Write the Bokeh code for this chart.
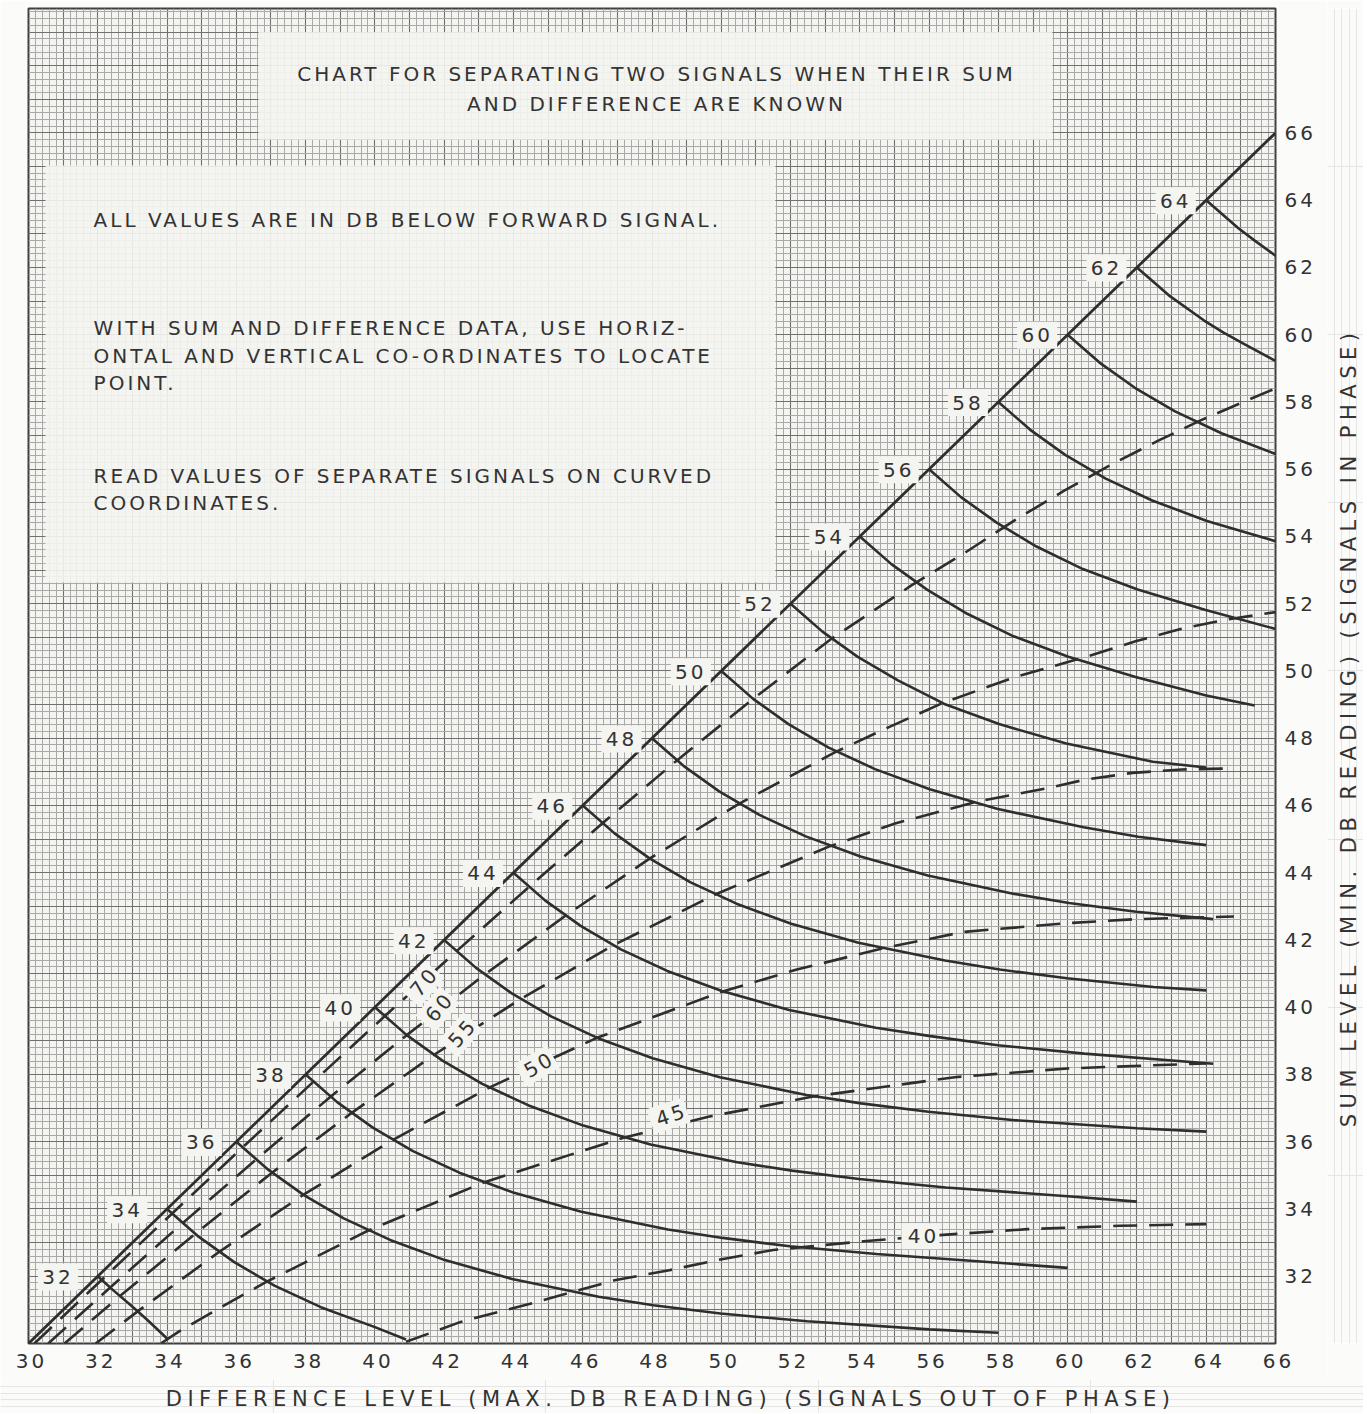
import math
from bokeh.plotting import figure
from bokeh.layouts import row, column
from bokeh.models import FixedTicker, SingleIntervalTicker, Range1d, InlineStyleSheet
from bokeh.core.properties import value
from bokeh.embed import file_html
from bokeh.resources import INLINE

# ---------------- data ----------------
x_ticks = list(range(30, 67, 2))
y_ticks = list(range(32, 67, 2))

diag_d = [30.0, 66.0]
diag_s = [30.0, 66.0]

# solid curves: constant level of one signal (labelled where they leave the diagonal)
solid_levels = [32, 34, 36, 38, 40, 42, 44, 46, 48, 50, 52, 54, 56, 58, 60, 62, 64]
s32_d = [32.0, 32.45, 32.92, 33.41, 34.0]
s32_s = [32.0, 31.58, 31.17, 30.72, 30.15]
s34_d = [34.0, 34.92, 35.94, 37.10, 38.44, 40.02, 40.9]
s34_s = [34.0, 33.17, 32.42, 31.72, 31.08, 30.48, 30.12]
s36_d = [36.0, 36.92, 37.94, 39.10, 40.44, 42.02, 43.96, 46.46, 48.04, 49.98, 52.48, 56.0, 58.0]
s36_s = [36.0, 35.17, 34.42, 33.72, 33.08, 32.48, 31.92, 31.39, 31.14, 30.89, 30.66, 30.42, 30.32]
s38_d = [38.0, 38.92, 39.94, 41.10, 42.44, 44.02, 45.96, 48.46, 50.04, 51.98, 54.48, 58.0, 60.0]
s38_s = [38.0, 37.17, 36.42, 35.72, 35.08, 34.48, 33.92, 33.39, 33.14, 32.89, 32.66, 32.40, 32.25]
s40_d = [40.0, 40.92, 41.94, 43.10, 44.44, 46.02, 47.96, 50.46, 52.04, 53.98, 56.48, 60.0, 62.0]
s40_s = [40.0, 39.17, 38.42, 37.72, 37.08, 36.48, 35.92, 35.39, 35.14, 34.89, 34.64, 34.38, 34.22]
s42_d = [42.0, 42.92, 43.94, 45.10, 46.44, 48.02, 49.96, 52.46, 54.04, 55.98, 58.48, 62.0, 64.0]
s42_s = [42.0, 41.17, 40.42, 39.72, 39.08, 38.48, 37.92, 37.39, 37.14, 36.89, 36.64, 36.40, 36.30]
s44_d = [44.0, 44.92, 45.94, 47.10, 48.44, 50.02, 51.96, 54.46, 56.04, 57.98, 60.48, 64.2]
s44_s = [44.0, 43.17, 42.42, 41.72, 41.08, 40.48, 39.92, 39.39, 39.14, 38.87, 38.62, 38.32]
s46_d = [46.0, 46.92, 47.94, 49.10, 50.44, 52.02, 53.96, 56.46, 58.04, 59.98, 62.48, 64.0]
s46_s = [46.0, 45.17, 44.42, 43.72, 43.08, 42.48, 41.92, 41.39, 41.12, 40.86, 40.60, 40.50]
s48_d = [48.0, 48.92, 49.94, 51.10, 52.44, 54.02, 55.96, 58.46, 60.04, 61.98, 64.2]
s48_s = [48.0, 47.17, 46.42, 45.72, 45.08, 44.48, 43.92, 43.37, 43.10, 42.84, 42.62]
s50_d = [50.0, 50.92, 51.94, 53.10, 54.44, 56.02, 57.96, 60.46, 62.04, 64.0]
s50_s = [50.0, 49.17, 48.42, 47.72, 47.08, 46.48, 45.90, 45.35, 45.07, 44.82]
s52_d = [52.0, 52.92, 53.94, 55.10, 56.44, 58.02, 59.96, 62.46, 64.0]
s52_s = [52.0, 51.17, 50.42, 49.72, 49.02, 48.42, 47.84, 47.30, 47.13]
s54_d = [54.0, 54.92, 55.94, 57.10, 58.44, 60.02, 61.96, 64.0, 65.4]
s54_s = [54.0, 53.17, 52.42, 51.70, 51.03, 50.42, 49.82, 49.27, 48.97]
s56_d = [56.0, 56.92, 57.94, 59.10, 60.44, 62.02, 63.96, 66.0]
s56_s = [56.0, 55.17, 54.42, 53.70, 53.03, 52.42, 51.82, 51.25]
s58_d = [58.0, 58.92, 59.94, 61.10, 62.44, 64.02, 66.0]
s58_s = [58.0, 57.17, 56.42, 55.72, 55.07, 54.46, 53.86]
s60_d = [60.0, 60.92, 61.94, 63.10, 64.44, 66.0]
s60_s = [60.0, 59.17, 58.42, 57.72, 57.07, 56.45]
s62_d = [62.0, 62.92, 63.94, 64.50, 65.10, 66.0]
s62_s = [62.0, 61.17, 60.42, 60.06, 59.72, 59.22]
s64_d = [64.0, 64.92, 65.41, 66.0]
s64_s = [64.0, 63.17, 62.79, 62.35]

# dashed curves: constant level of the other signal
dashed_levels = [70, 60, 55, 50, 45, 40]
d70_d = [30.17, 32.11, 34.14, 36.18, 38.22, 40.28, 42.35, 44.45, 46.57, 48.72, 50.92, 53.17,
         55.5, 57.1, 58.5, 59.9, 61.3, 62.6, 63.9, 65.07, 66.0]
d70_s = [30.0, 31.89, 33.86, 35.83, 37.78, 39.73, 41.66, 43.58, 45.47, 47.34, 49.17, 50.95,
         52.55, 53.56, 54.5, 55.36, 56.16, 56.84, 57.48, 58.0, 58.4]
d60_d = [30.57, 32.35, 34.45, 36.57, 38.72, 40.92, 43.17, 45.5, 47.93, 50.51, 53.32, 54.84,
         56.4, 58.43, 59.3, 60.57, 61.96, 63.26, 64.6, 66.0]
d60_s = [30.0, 31.66, 33.58, 35.47, 37.34, 39.17, 40.97, 42.72, 44.42, 46.05, 47.6, 48.33,
         49.05, 49.8, 50.06, 50.43, 50.88, 51.25, 51.53, 51.75]
d55_d = [31.04, 32.64, 34.81, 37.03, 39.32, 41.7, 44.2, 46.88, 49.84, 53.14, 55.04, 57.4,
         58.12, 59.45, 60.46, 61.87, 63.3, 64.75]
d55_s = [30.0, 31.41, 33.26, 35.08, 36.85, 38.58, 40.24, 41.84, 43.36, 44.79, 45.47, 46.12,
         46.26, 46.52, 46.76, 46.97, 47.07, 47.1]
d50_d = [31.94, 33.17, 35.5, 37.93, 40.51, 43.3, 46.41, 50.04, 52.18, 54.66, 57.0, 60.0, 62.0, 64.8]
d50_s = [30.0, 30.97, 32.72, 34.42, 36.05, 37.61, 39.09, 40.47, 41.12, 41.75, 42.24, 42.5, 42.62, 42.7]
d45_d = [33.82, 34.36, 35.51, 36.88, 39.81, 43.14, 47.18, 49.66, 52.69, 56.74, 60.0, 64.0]
d45_s = [30.0, 30.37, 31.05, 31.84, 33.36, 34.79, 36.12, 36.75, 37.35, 37.92, 38.18, 38.33]
d40_d = [40.9, 42.5, 44.55, 46.92, 48.5, 49.88, 51.5, 54.1, 56.4, 58.84, 61.5, 64.0]
d40_s = [30.05, 30.65, 31.2, 31.88, 32.18, 32.48, 32.78, 33.04, 33.23, 33.4, 33.5, 33.55]

# curve labels on the dashed family
dash_label_text = ["70", "60", "55", "50", "45", "40"]
dash_label_d = [41.37, 41.81, 42.47, 44.67, 48.48, 55.75]
dash_label_s = [40.69, 39.94, 39.17, 38.25, 36.77, 33.19]

title_lines = ["CHART FOR SEPARATING TWO SIGNALS WHEN THEIR SUM", "AND DIFFERENCE ARE KNOWN"]
note_lines = ["ALL VALUES ARE IN DB BELOW FORWARD SIGNAL.",
              "WITH SUM AND DIFFERENCE DATA, USE HORIZ-",
              "ONTAL AND VERTICAL CO-ORDINATES TO LOCATE",
              "POINT.",
              "READ VALUES OF SEPARATE SIGNALS ON CURVED",
              "COORDINATES."]
x_title = "DIFFERENCE LEVEL (MAX. DB READING) (SIGNALS OUT OF PHASE)"
y_title = "SUM LEVEL (MIN. DB READING) (SIGNALS IN PHASE)"

# ---------------- styling ----------------
INK = "#333333"
LINE = "#2e2e2e"
PAPER = "#f4f4f1"
MARGIN = "#fbfbfa"
FONT = "DejaVu Sans"
SPACING = 3        # letter spacing of the lettering inside the chart
TITLE_SPACING = 5.5  # wider lettering of the two axis titles
CSS = ":host { letter-spacing: %spx; }" % SPACING
TITLE_CSS = ":host { letter-spacing: %spx; }" % TITLE_SPACING

p = figure(frame_width=1247, frame_height=1335, output_backend="svg", toolbar_location=None,
           x_range=Range1d(30, 66), y_range=Range1d(30, 69.7),
           y_axis_location="right",
           min_border_left=28, min_border_top=8, min_border_right=52, min_border_bottom=36,
           background_fill_color=PAPER, border_fill_color=MARGIN,
           outline_line_color="#3f3f3f", outline_line_width=2)
p.stylesheets = [InlineStyleSheet(css=CSS)]

for g in (p.xgrid, p.ygrid):
    g.ticker = SingleIntervalTicker(interval=1, num_minor_ticks=5)
    g.grid_line_color = "#707070"
    g.grid_line_width = 1.1
    g.minor_grid_line_color = "#a9a9a9"
    g.minor_grid_line_width = 1

p.xaxis.ticker = FixedTicker(ticks=x_ticks)
p.yaxis.ticker = FixedTicker(ticks=y_ticks)
for ax in (p.xaxis, p.yaxis):
    ax.axis_line_color = None
    ax.major_tick_line_color = None
    ax.minor_tick_line_color = None
    ax.major_tick_in = 0
    ax.major_tick_out = 0
    ax.minor_tick_in = 0
    ax.minor_tick_out = 0
    ax.major_label_text_font = FONT
    ax.major_label_text_font_size = "20px"
    ax.major_label_text_color = INK
p.xaxis.major_label_standoff = 10
p.yaxis.major_label_standoff = 9

# pale panels behind the title and the notes
p.quad(left=[36.64], right=[59.56], bottom=[65.8], top=[69.0],
       fill_color=PAPER, fill_alpha=0.9, line_color=None)
p.quad(left=[30.49], right=[51.56], bottom=[52.63], top=[65.03],
       fill_color=PAPER, fill_alpha=0.9, line_color=None)

# diagonal
p.line(diag_d, diag_s, line_color=LINE, line_width=2.8)

solid = [(s32_d, s32_s), (s34_d, s34_s), (s36_d, s36_s), (s38_d, s38_s), (s40_d, s40_s),
         (s42_d, s42_s), (s44_d, s44_s), (s46_d, s46_s), (s48_d, s48_s), (s50_d, s50_s),
         (s52_d, s52_s), (s54_d, s54_s), (s56_d, s56_s), (s58_d, s58_s), (s60_d, s60_s),
         (s62_d, s62_s), (s64_d, s64_s)]
for xs, ys in solid:
    p.line(xs, ys, line_color=LINE, line_width=2.6)

dashed = [(d70_d, d70_s), (d60_d, d60_s), (d55_d, d55_s), (d50_d, d50_s), (d45_d, d45_s), (d40_d, d40_s)]
for xs, ys in dashed:
    p.line(xs, ys, line_color=LINE, line_width=2.6, line_dash="24 12")

# labels on the diagonal
lab_x = [v - (1.15 if v <= 34 else (1.0 if v <= 40 else 0.88)) for v in solid_levels]
lab_y = [v - 0.02 for v in solid_levels]
p.rect(lab_x, lab_y, width=40, height=27, width_units="screen", height_units="screen",
       fill_color=PAPER, line_color=None)
p.text(lab_x, lab_y, text=[str(v) for v in solid_levels], text_align="center",
       text_baseline="middle", x_offset=-SPACING, text_font=value(FONT),
       text_font_size=value("20px"), text_color=INK)

# labels on the dashed family
dash_angles = [math.radians(a) for a in (50, 50, 48, 30, 18, 0)]
p.rect(dash_label_d, dash_label_s, width=38, height=26, angle=dash_angles,
       width_units="screen", height_units="screen", fill_color=PAPER, line_color=None)
p.text(dash_label_d, dash_label_s, text=dash_label_text, angle=dash_angles,
       text_align="center", text_baseline="middle", text_font=value(FONT),
       text_font_size=value("20px"), text_color=INK)

# title and notes
p.text([48.13, 48.13], [67.76, 66.87], text=title_lines, text_align="center",
       text_baseline="middle", x_offset=[-len(t) * SPACING / 2 for t in title_lines],
       text_font=value(FONT), text_font_size=value("20px"), text_color=INK)
p.text([31.88] * 6, [63.42, 60.21, 59.38, 58.55, 55.81, 54.98], text=note_lines,
       text_align="left", text_baseline="middle", text_font=value(FONT),
       text_font_size=value("20px"), text_color=INK)

# narrow strip on the right carrying the vertical axis title
q = figure(frame_width=36, frame_height=1335, output_backend="svg", toolbar_location=None,
           x_range=Range1d(0, 1), y_range=p.y_range,
           x_axis_location=None, y_axis_location=None,
           min_border_left=0, min_border_right=0, min_border_top=8, min_border_bottom=36,
           background_fill_color=MARGIN, border_fill_color=MARGIN, outline_line_color=None)
q.stylesheets = [InlineStyleSheet(css=TITLE_CSS)]
q.text([0.6], [44.56], text=[y_title], angle=math.pi / 2, text_align="center",
       text_baseline="middle", text_font=value(FONT), text_font_size=value("21px"),
       text_color=INK)

# strip below carrying the horizontal axis title
r = figure(frame_width=1363, frame_height=34, output_backend="svg", toolbar_location=None,
           x_range=Range1d(0, 1), y_range=Range1d(0, 1),
           x_axis_location=None, y_axis_location=None,
           min_border_left=0, min_border_right=0, min_border_top=0, min_border_bottom=0,
           background_fill_color=MARGIN, border_fill_color=MARGIN, outline_line_color=None)
r.stylesheets = [InlineStyleSheet(css=TITLE_CSS)]
r.text([0.4916], [0.44], text=[x_title], text_align="center", text_baseline="middle",
       x_offset=-len(x_title) * TITLE_SPACING / 2, text_font=value(FONT),
       text_font_size=value("21px"), text_color=INK)

layout = column(row(p, q), r)
open("out.html", "w").write(file_html(layout, INLINE))
